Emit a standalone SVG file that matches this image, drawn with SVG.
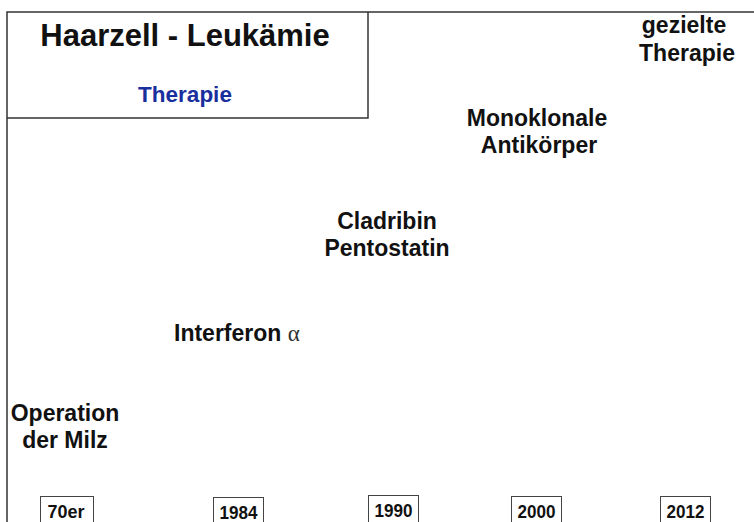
<svg xmlns="http://www.w3.org/2000/svg" width="754" height="522" viewBox="0 0 754 522">
<style>
.frame{fill:none;stroke:#333;stroke-width:1.5}
.lbl{font-family:"Liberation Sans",Arial,sans-serif;font-weight:bold;font-size:23px;fill:#111;text-anchor:middle}
.yr{fill:#fff;stroke:#444;stroke-width:1}
.yt{font-family:"Liberation Sans",Arial,sans-serif;font-weight:bold;font-size:18.5px;fill:#111;text-anchor:middle}
</style>
<rect width="754" height="522" fill="#fff"/>
<g id="frame">
<path class="frame" d="M7,522 V12 H754 M368,12 V118 H7"/>
</g>
<g id="title">
<text x="185" y="46" class="lbl" style="font-size:31px">Haarzell - Leukämie</text>
<text x="185" y="102" class="lbl" style="font-size:22.5px;fill:#1a2f9e">Therapie</text>
</g>
<g id="node-gezielte">
<text class="lbl" style="font-size:23px"><tspan x="684" y="33">gezielte</tspan><tspan x="687" y="61">Therapie</tspan></text>
</g>
<g id="node-antikoerper">
<text class="lbl"><tspan x="537" y="126">Monoklonale</tspan><tspan x="539" y="153">Antikörper</tspan></text>
</g>
<g id="node-cladribin">
<text class="lbl"><tspan x="387" y="229">Cladribin</tspan><tspan x="387" y="256">Pentostatin</tspan></text>
</g>
<g id="node-interferon">
<text x="174" y="341" class="lbl" style="text-anchor:start">Interferon <tspan style="font-family:'Liberation Serif',serif;font-weight:normal;fill:#333">α</tspan></text>
</g>
<g id="node-operation">
<text class="lbl"><tspan x="65" y="421">Operation</tspan><tspan x="65" y="448">der Milz</tspan></text>
</g>
<g id="year-70er">
<rect class="yr" x="40.5" y="496.5" width="53" height="30"/>
<text x="66" y="518" class="yt" textLength="37" lengthAdjust="spacingAndGlyphs">70er</text>
</g>
<g id="year-1984">
<rect class="yr" x="213.5" y="497.5" width="50" height="30"/>
<text x="238.5" y="519" class="yt" textLength="38" lengthAdjust="spacingAndGlyphs">1984</text>
</g>
<g id="year-1990">
<rect class="yr" x="368.5" y="495.5" width="50" height="30"/>
<text x="393.5" y="517" class="yt" textLength="38" lengthAdjust="spacingAndGlyphs">1990</text>
</g>
<g id="year-2000">
<rect class="yr" x="511.5" y="496.5" width="50" height="30"/>
<text x="536.5" y="518" class="yt" textLength="38" lengthAdjust="spacingAndGlyphs">2000</text>
</g>
<g id="year-2012">
<rect class="yr" x="660.5" y="496.5" width="50" height="30"/>
<text x="685.5" y="518" class="yt" textLength="38" lengthAdjust="spacingAndGlyphs">2012</text>
</g>
</svg>
